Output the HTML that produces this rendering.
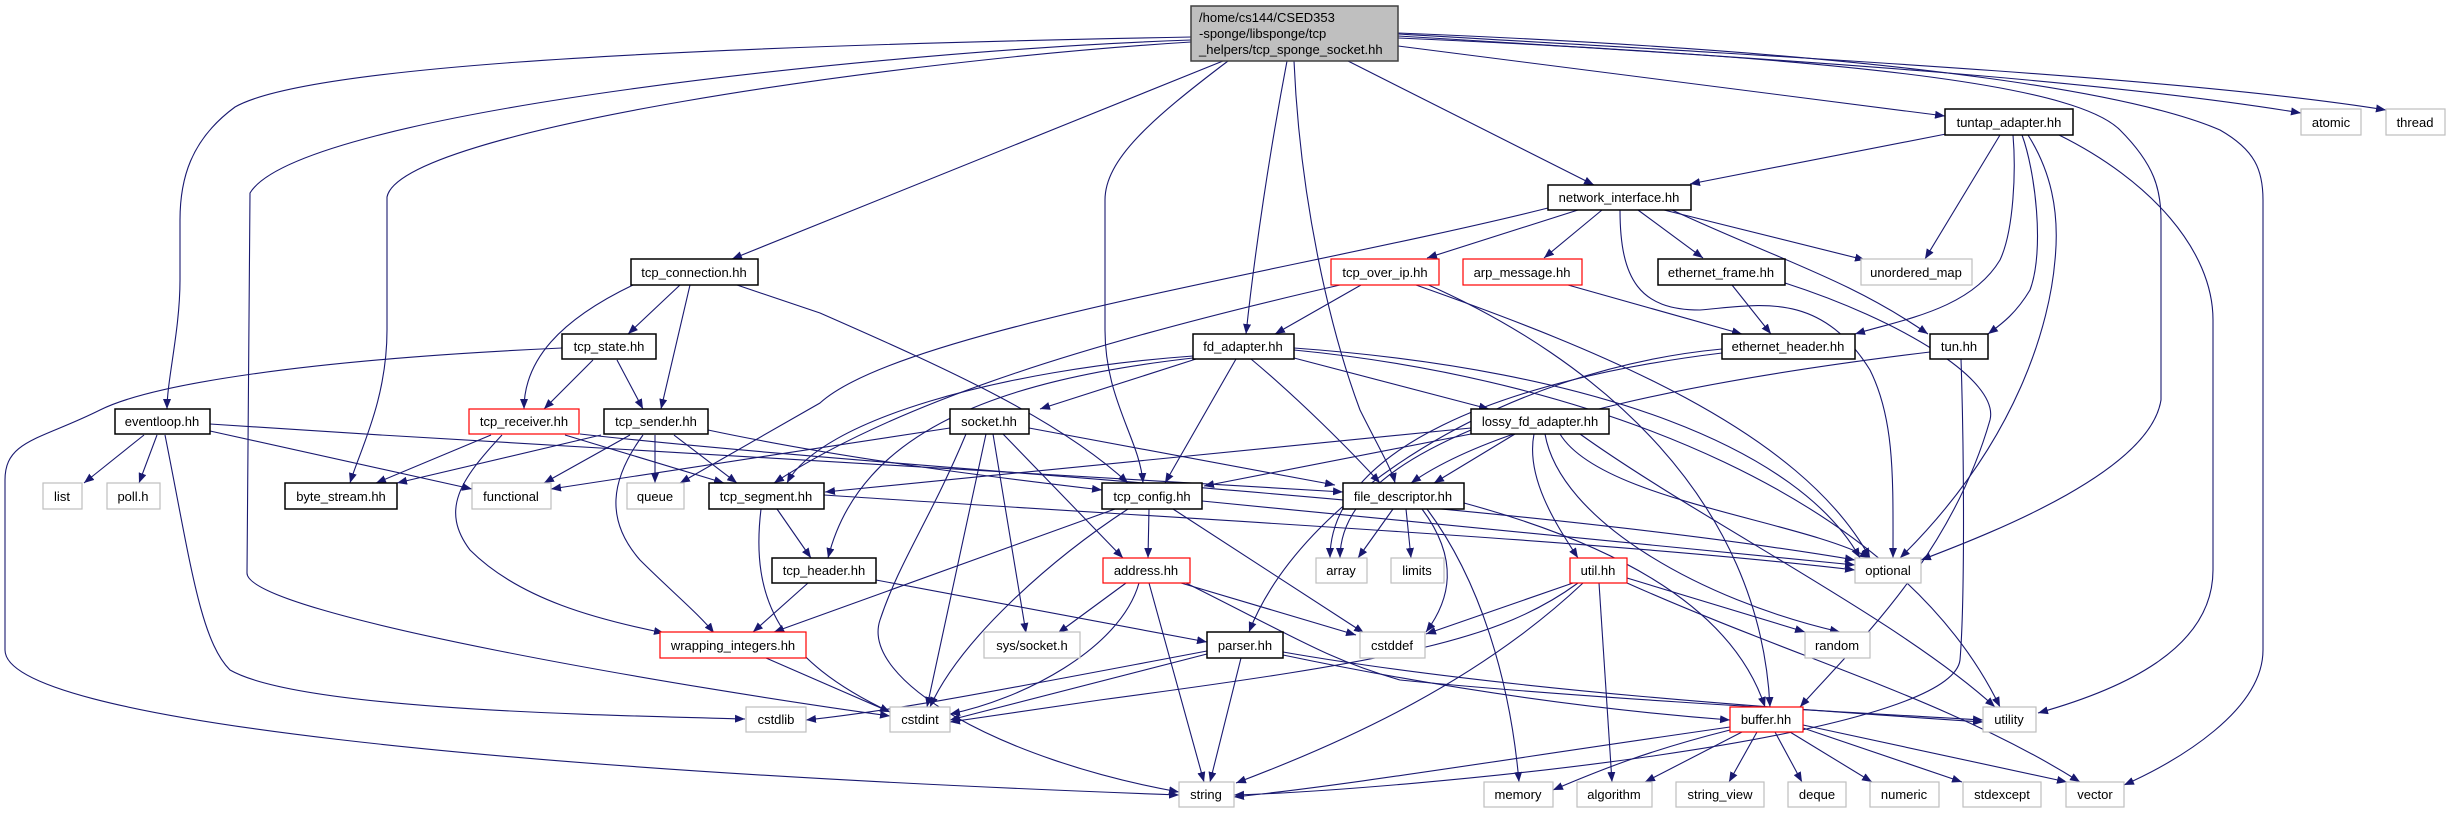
<!DOCTYPE html>
<html><head><meta charset="utf-8"><style>
html,body{margin:0;padding:0;background:#fff;}
svg{display:block;}
text{font-family:"Liberation Sans",sans-serif;font-size:13px;fill:#000;}
.e{fill:none;stroke:#191970;stroke-width:1.1;marker-end:url(#a);}
.b{fill:#fff;stroke:#000;stroke-width:1.5;}
.r{fill:#fff;stroke:#ff0000;stroke-width:1.2;}
.g{fill:#fff;stroke:#bfbfbf;stroke-width:1.2;}
</style></head><body>
<svg width="2449" height="813" viewBox="0 0 2449 813" xmlns="http://www.w3.org/2000/svg">
<defs><marker id="a" markerUnits="userSpaceOnUse" markerWidth="11" markerHeight="8" refX="10" refY="4" orient="auto"><path d="M0,0 L10,4 L0,8 z" fill="#191970"/></marker></defs>
<g>
<!-- root edges -->
<path class="e" d="M1191,37 C600,48 300,70 235,107 C190,140 180,180 180,220 L180,280 C180,330 167,380 167,409"/>
<path class="e" d="M1191,40 C900,50 300,110 250,193 L247,573 C247,615 700,690 890,716"/>
<path class="e" d="M1191,42 C900,60 400,130 387,197 L387,330 C387,400 360,450 350,483"/>
<path class="e" d="M1223,61 L732,259"/>
<path class="e" d="M1287,61 C1270,150 1255,250 1246,334"/>
<path class="e" d="M1228,61 C1150,120 1105,160 1105,200 L1105,330 C1105,400 1140,440 1143,483"/>
<path class="e" d="M1294,61 C1300,200 1330,330 1360,410 C1380,450 1392,470 1395,483"/>
<path class="e" d="M1348,61 L1594,185"/>
<path class="e" d="M1398,46 L1945,116"/>
<path class="e" d="M1398,36 C1800,60 2100,80 2301,113"/>
<path class="e" d="M1398,34 C1850,60 2200,80 2386,110"/>
<path class="e" d="M1398,38 C1900,60 2080,90 2120,130 C2155,165 2161,190 2161,220 L2161,400 C2150,470 2000,530 1921,560"/>
<path class="e" d="M1398,33 C1950,55 2150,100 2220,130 C2255,150 2263,170 2263,200 L2263,650 C2263,710 2180,760 2124,785"/>
<!-- tuntap -->
<path class="e" d="M1946,134 L1690,184"/>
<path class="e" d="M2000,135 L1925,259"/>
<path class="e" d="M2013,135 C2016,170 2014,230 2000,260 C1970,310 1900,320 1855,334"/>
<path class="e" d="M2022,135 C2035,170 2045,250 2030,290 C2015,315 2000,325 1988,334"/>
<path class="e" d="M2028,135 C2050,170 2060,210 2055,260 C2050,320 2020,440 1900,558"/>
<path class="e" d="M2059,135 C2150,180 2213,250 2213,320 L2213,570 C2213,650 2120,690 2038,713"/>
<!-- network_interface -->
<path class="e" d="M1578,210 L1427,258"/>
<path class="e" d="M1602,210 L1544,258"/>
<path class="e" d="M1638,210 L1703,258"/>
<path class="e" d="M1664,210 L1865,260"/>
<path class="e" d="M1672,210 C1780,260 1850,280 1928,334"/>
<path class="e" d="M1548,208 C1300,270 900,330 820,403 L680,483"/>
<path class="e" d="M1620,210 C1620,280 1640,310 1700,310 C1760,305 1820,290 1870,370 C1895,420 1893,480 1893,558"/>
<!-- tcp_connection -->
<path class="e" d="M633,285 C560,320 524,360 524,409"/>
<path class="e" d="M680,285 L628,334"/>
<path class="e" d="M690,285 L661,409"/>
<path class="e" d="M737,285 L820,313 C950,370 1060,420 1128,483"/>
<!-- tcp_state -->
<path class="e" d="M562,348 C300,360 150,385 100,410 C40,440 5,440 5,480 L5,650 C5,720 500,770 1179,795"/>
<path class="e" d="M593,360 L544,409"/>
<path class="e" d="M617,360 L643,409"/>
<!-- eventloop -->
<path class="e" d="M144,435 L84,483"/>
<path class="e" d="M157,435 L139,483"/>
<path class="e" d="M210,431 L472,489"/>
<path class="e" d="M165,435 C190,560 200,640 230,670 C300,710 600,715 745,719"/>
<path class="e" d="M210,424 C600,450 1000,470 1343,492"/>
<!-- tcp_receiver -->
<path class="e" d="M491,435 L376,483"/>
<path class="e" d="M565,435 L724,483"/>
<path class="e" d="M502,435 C460,480 440,510 470,550 C520,600 600,620 664,633"/>
<path class="e" d="M580,434 C900,470 1500,500 1855,560"/>
<!-- tcp_sender -->
<path class="e" d="M601,435 L397,483"/>
<path class="e" d="M630,435 L544,483"/>
<path class="e" d="M655,435 L655,483"/>
<path class="e" d="M674,435 L737,483"/>
<path class="e" d="M643,435 C610,480 605,520 640,560 C670,590 700,615 714,633"/>
<path class="e" d="M708,430 C850,460 1000,478 1102,490"/>
<!-- socket -->
<path class="e" d="M950,428 L551,489"/>
<path class="e" d="M986,434 L927,707"/>
<path class="e" d="M993,434 L1026,633"/>
<path class="e" d="M1003,434 L1123,558"/>
<path class="e" d="M1029,428 L1335,485"/>
<path class="e" d="M966,434 C930,520 900,560 880,620 C860,680 1000,760 1179,792"/>
<!-- fd_adapter -->
<path class="e" d="M1196,359 L1040,409"/>
<path class="e" d="M1236,359 L1165,483"/>
<path class="e" d="M1251,359 C1300,400 1350,450 1380,483"/>
<path class="e" d="M1193,358 C1000,380 860,430 828,558"/>
<path class="e" d="M1193,356 C1000,370 820,420 787,483"/>
<path class="e" d="M1294,358 L1489,409"/>
<path class="e" d="M1294,348 C1600,370 1800,450 1860,558"/>
<path class="e" d="M1294,350 C1600,380 1900,500 2000,707"/>
<!-- tcp_over_ip -->
<path class="e" d="M1361,285 L1275,334"/>
<path class="e" d="M1340,285 C1100,340 900,400 774,483"/>
<path class="e" d="M1416,285 C1600,350 1800,430 1870,558"/>
<path class="e" d="M1424,283 C1600,360 1760,500 1770,707"/>
<!-- arp / ethernet -->
<path class="e" d="M1568,285 L1742,334"/>
<path class="e" d="M1732,285 L1771,334"/>
<path class="e" d="M1785,283 C1900,320 2000,380 1990,420 C1950,560 1850,650 1800,707"/>
<path class="e" d="M1722,349 C1500,370 1300,500 1249,632"/>
<path class="e" d="M1722,353 C1500,380 1330,450 1330,558"/>
<path class="e" d="M1930,352 C1700,380 1500,420 1411,483"/>
<path class="e" d="M1961,359 C1964,450 1965,600 1960,660 C1950,740 1400,790 1234,795"/>
<!-- lossy -->
<path class="e" d="M1471,428 L825,492"/>
<path class="e" d="M1471,434 L1204,486"/>
<path class="e" d="M1515,434 L1434,483"/>
<path class="e" d="M1534,434 C1525,480 1560,530 1578,558"/>
<path class="e" d="M1545,434 C1560,520 1700,600 1840,632"/>
<path class="e" d="M1560,434 C1600,500 1800,520 1870,558"/>
<path class="e" d="M1580,434 C1700,520 1900,620 1995,707"/>
<path class="e" d="M1471,430 C1400,460 1340,500 1340,558"/>
<!-- tcp_config -->
<path class="e" d="M1149,509 L1148,558"/>
<path class="e" d="M1128,509 C1050,560 960,640 930,707"/>
<path class="e" d="M1115,509 L774,632"/>
<path class="e" d="M1173,509 L1364,633"/>
<path class="e" d="M1202,501 L1855,565"/>
<!-- file_descriptor -->
<path class="e" d="M1393,509 L1358,558"/>
<path class="e" d="M1406,509 L1411,558"/>
<path class="e" d="M1422,509 C1460,560 1450,600 1426,632"/>
<path class="e" d="M1427,509 C1480,580 1510,680 1519,782"/>
<path class="e" d="M1464,503 C1600,540 1730,600 1765,707"/>
<!-- tcp_segment / tcp_header -->
<path class="e" d="M777,509 L811,558"/>
<path class="e" d="M761,509 C750,600 780,660 890,712"/>
<path class="e" d="M824,495 C1200,520 1600,540 1855,570"/>
<path class="e" d="M808,583 L753,632"/>
<path class="e" d="M876,580 L1207,642"/>
<path class="e" d="M766,658 L890,712"/>
<!-- address -->
<path class="e" d="M1126,583 L1058,633"/>
<path class="e" d="M1139,583 C1120,650 1020,700 950,714"/>
<path class="e" d="M1149,583 L1204,782"/>
<path class="e" d="M1181,583 L1356,635"/>
<path class="e" d="M1186,583 C1300,640 1330,660 1400,680 C1600,700 1900,715 1983,720"/>
<!-- parser -->
<path class="e" d="M1207,651 C1000,690 900,710 806,720"/>
<path class="e" d="M1207,654 L950,720"/>
<path class="e" d="M1241,658 L1210,782"/>
<path class="e" d="M1283,655 C1450,690 1600,710 1730,720"/>
<path class="e" d="M1283,652 C1500,690 1800,710 1983,722"/>
<!-- util -->
<path class="e" d="M1573,583 L1426,634"/>
<path class="e" d="M1578,583 C1500,640 1400,660 1100,700 L950,722"/>
<path class="e" d="M1583,583 C1480,680 1350,740 1236,783"/>
<path class="e" d="M1599,583 L1612,782"/>
<path class="e" d="M1627,578 L1805,632"/>
<path class="e" d="M1627,583 C1800,660 1950,700 2080,782"/>
<!-- buffer -->
<path class="e" d="M1730,727 C1500,760 1350,785 1234,797"/>
<path class="e" d="M1730,730 C1650,750 1600,770 1553,790"/>
<path class="e" d="M1742,732 L1645,782"/>
<path class="e" d="M1757,732 L1729,782"/>
<path class="e" d="M1775,732 L1802,782"/>
<path class="e" d="M1790,732 L1872,782"/>
<path class="e" d="M1803,728 L1962,782"/>
<path class="e" d="M1803,725 L2067,782"/>
</g>
<!-- nodes -->
<rect x="1191" y="6" width="207" height="55" fill="#bfbfbf" stroke="#404040" stroke-width="1.5"/>
<text x="1199" y="22">/home/cs144/CSED353</text>
<text x="1199" y="38">-sponge/libsponge/tcp</text>
<text x="1199" y="54">_helpers/tcp_sponge_socket.hh</text>
<g text-anchor="middle">
<rect class="b" x="1945" y="109" width="128" height="26"/><text x="2009" y="127">tuntap_adapter.hh</text>
<rect class="g" x="2301" y="109" width="60" height="26"/><text x="2331" y="127" fill="#000">atomic</text>
<rect class="g" x="2386" y="109" width="59" height="26"/><text x="2415" y="127">thread</text>
<rect class="b" x="1548" y="185" width="143" height="25"/><text x="1619" y="202">network_interface.hh</text>
<rect class="b" x="631" y="259" width="127" height="26"/><text x="694" y="277">tcp_connection.hh</text>
<rect class="r" x="1331" y="259" width="108" height="26"/><text x="1385" y="277">tcp_over_ip.hh</text>
<rect class="r" x="1463" y="259" width="119" height="26"/><text x="1522" y="277">arp_message.hh</text>
<rect class="b" x="1658" y="259" width="127" height="26"/><text x="1721" y="277">ethernet_frame.hh</text>
<rect class="g" x="1861" y="259" width="111" height="26"/><text x="1916" y="277">unordered_map</text>
<rect class="b" x="562" y="334" width="94" height="25"/><text x="609" y="351">tcp_state.hh</text>
<rect class="b" x="1193" y="334" width="101" height="25"/><text x="1243" y="351">fd_adapter.hh</text>
<rect class="b" x="1722" y="334" width="133" height="25"/><text x="1788" y="351">ethernet_header.hh</text>
<rect class="b" x="1930" y="334" width="58" height="25"/><text x="1959" y="351">tun.hh</text>
<rect class="b" x="115" y="409" width="95" height="25"/><text x="162" y="426">eventloop.hh</text>
<rect class="r" x="469" y="409" width="110" height="25"/><text x="524" y="426">tcp_receiver.hh</text>
<rect class="b" x="604" y="409" width="104" height="25"/><text x="656" y="426">tcp_sender.hh</text>
<rect class="b" x="950" y="409" width="79" height="25"/><text x="989" y="426">socket.hh</text>
<rect class="b" x="1471" y="409" width="138" height="25"/><text x="1540" y="426">lossy_fd_adapter.hh</text>
<rect class="g" x="43" y="483" width="39" height="26"/><text x="62" y="501">list</text>
<rect class="g" x="107" y="483" width="53" height="26"/><text x="133" y="501">poll.h</text>
<rect class="b" x="285" y="483" width="112" height="26"/><text x="341" y="501">byte_stream.hh</text>
<rect class="g" x="472" y="483" width="79" height="26"/><text x="511" y="501">functional</text>
<rect class="g" x="627" y="483" width="57" height="26"/><text x="655" y="501">queue</text>
<rect class="b" x="709" y="483" width="115" height="26"/><text x="766" y="501">tcp_segment.hh</text>
<rect class="b" x="1102" y="483" width="100" height="26"/><text x="1152" y="501">tcp_config.hh</text>
<rect class="b" x="1343" y="483" width="121" height="26"/><text x="1403" y="501">file_descriptor.hh</text>
<rect class="b" x="772" y="558" width="104" height="25"/><text x="824" y="575">tcp_header.hh</text>
<rect class="r" x="1103" y="558" width="87" height="25"/><text x="1146" y="575">address.hh</text>
<rect class="g" x="1316" y="558" width="51" height="25"/><text x="1341" y="575">array</text>
<rect class="g" x="1391" y="558" width="53" height="25"/><text x="1417" y="575">limits</text>
<rect class="r" x="1570" y="558" width="57" height="25"/><text x="1598" y="575">util.hh</text>
<rect class="g" x="1855" y="558" width="66" height="25"/><text x="1888" y="575">optional</text>
<rect class="r" x="660" y="632" width="146" height="26"/><text x="733" y="650">wrapping_integers.hh</text>
<rect class="g" x="984" y="632" width="96" height="26"/><text x="1032" y="650">sys/socket.h</text>
<rect class="b" x="1207" y="632" width="76" height="26"/><text x="1245" y="650">parser.hh</text>
<rect class="g" x="1360" y="632" width="65" height="26"/><text x="1392" y="650">cstddef</text>
<rect class="g" x="1805" y="632" width="65" height="26"/><text x="1837" y="650">random</text>
<rect class="g" x="746" y="707" width="60" height="25"/><text x="776" y="724">cstdlib</text>
<rect class="g" x="890" y="707" width="60" height="25"/><text x="920" y="724">cstdint</text>
<rect class="r" x="1730" y="707" width="73" height="25"/><text x="1766" y="724">buffer.hh</text>
<rect class="g" x="1983" y="707" width="53" height="25"/><text x="2009" y="724">utility</text>
<rect class="g" x="1179" y="782" width="55" height="25"/><text x="1206" y="799">string</text>
<rect class="g" x="1484" y="782" width="69" height="25"/><text x="1518" y="799">memory</text>
<rect class="g" x="1577" y="782" width="75" height="25"/><text x="1614" y="799">algorithm</text>
<rect class="g" x="1676" y="782" width="88" height="25"/><text x="1720" y="799">string_view</text>
<rect class="g" x="1788" y="782" width="58" height="25"/><text x="1817" y="799">deque</text>
<rect class="g" x="1870" y="782" width="69" height="25"/><text x="1904" y="799">numeric</text>
<rect class="g" x="1963" y="782" width="78" height="25"/><text x="2002" y="799">stdexcept</text>
<rect class="g" x="2066" y="782" width="58" height="25"/><text x="2095" y="799">vector</text>
</g>
</svg>
</body></html>
